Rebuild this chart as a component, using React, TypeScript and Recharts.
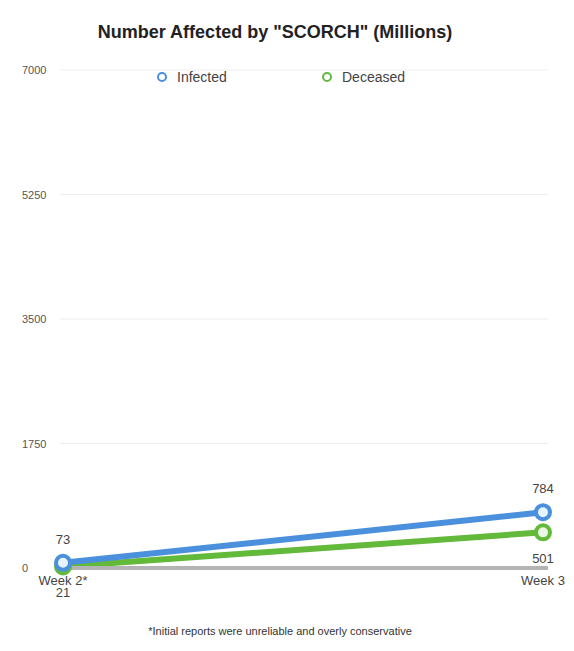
import React from "react"
import { LineChart, Line, XAxis, YAxis, CartesianGrid, LabelList } from "recharts"

const weeks = ["Week 2*", "Week 3"]
const infected = [73, 784]
const deceased = [21, 501]
const yTicks = [0, 1750, 3500, 5250, 7000]

const data = weeks.map((w, i) => ({ week: w, infected: infected[i], deceased: deceased[i] }))

const BLUE = "#4a90dc"
const GREEN = "#62b93a"

const font = "'Liberation Sans', Arial, sans-serif"

function YTick(props: any) {
	const { y, payload } = props
	return (
		<text x={22} y={y} dy={4} fontSize={11} fill="#555" fontFamily={font}>
			{payload.value}
		</text>
	)
}

// legend drawn by hand so it sits over the plot, like the original
function LegendRow() {
	const items = [
		{ name: "Infected", color: BLUE, x: 157 },
		{ name: "Deceased", color: GREEN, x: 322 },
	]
	return (
		<>
			{items.map((it) => (
				<div
					key={it.name}
					style={{ position: "absolute", left: it.x, top: 69, display: "flex", alignItems: "center", fontFamily: font, fontSize: 14, color: "#444" }}
				>
					<span
						style={{ width: 6, height: 6, borderRadius: "50%", border: `2px solid ${it.color}`, marginRight: 10, display: "inline-block" }}
					/>
					{it.name}
				</div>
			))}
		</>
	)
}

export default function App() {
	return (
		<div style={{ position: "absolute", left: 0, top: 0, width: 574, height: 651, background: "#fff" }}>
			<div
				style={{ position: "absolute", left: 0, width: 550, top: 22, textAlign: "center", fontFamily: font, fontWeight: "bold", fontSize: 18, color: "#222" }}
			>
				Number Affected by "SCORCH" (Millions)
			</div>
			<LineChart width={574} height={651} data={data} margin={{ top: 70, right: 26, left: 0, bottom: 53 }}>
				<CartesianGrid vertical={false} stroke="#eeeeee" />
				<XAxis
					dataKey="week"
					padding={{ left: 3, right: 5 }}
					axisLine={{ stroke: "#b4b4b4", strokeWidth: 4 }}
					tickLine={false}
					tick={{ fill: "#444", fontSize: 13, fontFamily: font }}
					height={30}
				/>
				<YAxis
					width={60}
					domain={[0, 7000]}
					ticks={yTicks}
					axisLine={false}
					tickLine={false}
					tick={<YTick />}
				/>
				<Line
					type="linear"
					dataKey="deceased"
					name="Deceased"
					stroke={GREEN}
					strokeWidth={6}
					dot={{ r: 7, stroke: GREEN, strokeWidth: 4, fill: "#eaf7e4" }}
					isAnimationActive={false}
				>
					<LabelList dataKey="deceased" position="bottom" offset={21} fill="#444" fontSize={13} fontFamily={font} />
				</Line>
				<Line
					type="linear"
					dataKey="infected"
					name="Infected"
					stroke={BLUE}
					strokeWidth={6}
					dot={{ r: 7, stroke: BLUE, strokeWidth: 4, fill: "#e6f4ff" }}
					isAnimationActive={false}
				>
					<LabelList dataKey="infected" position="top" offset={19} fill="#444" fontSize={13} fontFamily={font} />
				</Line>
			</LineChart>
			<LegendRow />
			<div
				style={{ position: "absolute", left: 0, width: 560, top: 625, textAlign: "center", fontFamily: font, fontSize: 11, color: "#333" }}
			>
				*Initial reports were unreliable and overly conservative
			</div>
		</div>
	)
}
